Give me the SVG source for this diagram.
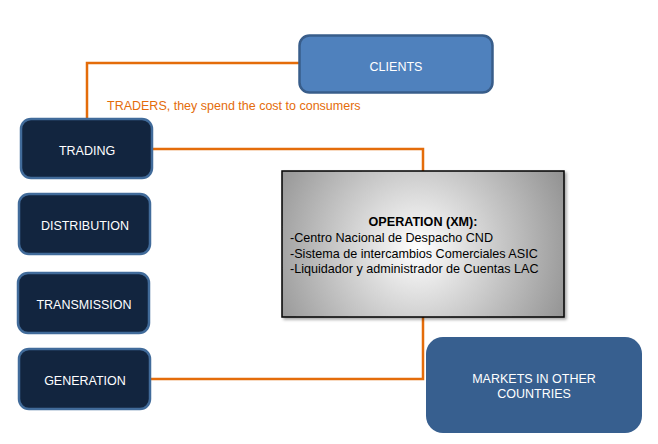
<svg xmlns="http://www.w3.org/2000/svg" width="658" height="444" viewBox="0 0 658 444">
<defs>
<radialGradient id="opg" cx="418" cy="248" r="175" gradientUnits="userSpaceOnUse">
<stop offset="0" stop-color="#ffffff"/>
<stop offset="1" stop-color="#8a8a8a"/>
</radialGradient>
<filter id="sh" x="-10%" y="-10%" width="125%" height="125%">
<feGaussianBlur in="SourceAlpha" stdDeviation="1.5"/>
<feOffset dx="1.5" dy="2" result="b"/>
<feComponentTransfer><feFuncA type="linear" slope="0.35"/></feComponentTransfer>
<feMerge><feMergeNode/><feMergeNode in="SourceGraphic"/></feMerge>
</filter>
</defs>
<style>
.dark{fill:#12253f;stroke:#416b9a;stroke-width:2.5}
.lbl{font-family:"Liberation Sans",Arial,sans-serif;font-size:12.5px;fill:#ffffff;text-anchor:middle}
.conn{fill:none;stroke:#e46c0a;stroke-width:2.5}
.op{font-family:"Liberation Sans",Arial,sans-serif;font-size:12.6px;fill:#000000}
</style>
<rect width="658" height="444" fill="#ffffff"/>
<g id="connectors">
<polyline class="conn" points="299,63 87,63 87,119"/>
<polyline class="conn" points="152,149 423,149 423,171"/>
<polyline class="conn" points="423,317 423,379 151,379"/>
</g>
<text x="107" y="110" font-family="Liberation Sans, Arial, sans-serif" font-size="12.5" fill="#e46c0a">TRADERS, they spend the cost to consumers</text>
<g id="clients">
<rect x="299.5" y="35.5" width="193" height="57" rx="10" fill="#4f81bd" stroke="#385d8a" stroke-width="2.5"/>
<text class="lbl" x="396" y="71">CLIENTS</text>
</g>
<g id="trading">
<rect class="dark" x="21" y="119" width="131" height="59" rx="10"/>
<text class="lbl" x="87" y="155">TRADING</text>
</g>
<g id="distribution">
<rect class="dark" x="19" y="194" width="131" height="60" rx="10"/>
<text class="lbl" x="85" y="230">DISTRIBUTION</text>
</g>
<g id="transmission">
<rect class="dark" x="18" y="273" width="131" height="60" rx="10"/>
<text class="lbl" x="84" y="309">TRANSMISSION</text>
</g>
<g id="generation">
<rect class="dark" x="19" y="349" width="131" height="60" rx="10"/>
<text class="lbl" x="85" y="385">GENERATION</text>
</g>
<g id="operation">
<rect x="282" y="171" width="282" height="146" fill="url(#opg)" stroke="#000000" stroke-width="1.5" filter="url(#sh)"/>
<text class="op" x="423" y="226" text-anchor="middle" font-weight="bold">OPERATION (XM):</text>
<text class="op" x="290" y="242">-Centro Nacional de Despacho CND</text>
<text class="op" x="290" y="257.5">-Sistema de intercambios Comerciales ASIC</text>
<text class="op" x="290" y="273">-Liquidador y administrador de Cuentas LAC</text>
</g>
<g id="markets">
<rect x="426" y="337" width="216" height="96" rx="17" fill="#375f8f"/>
<text class="lbl" x="534" y="383">MARKETS IN OTHER</text>
<text class="lbl" x="534" y="398">COUNTRIES</text>
</g>
</svg>
